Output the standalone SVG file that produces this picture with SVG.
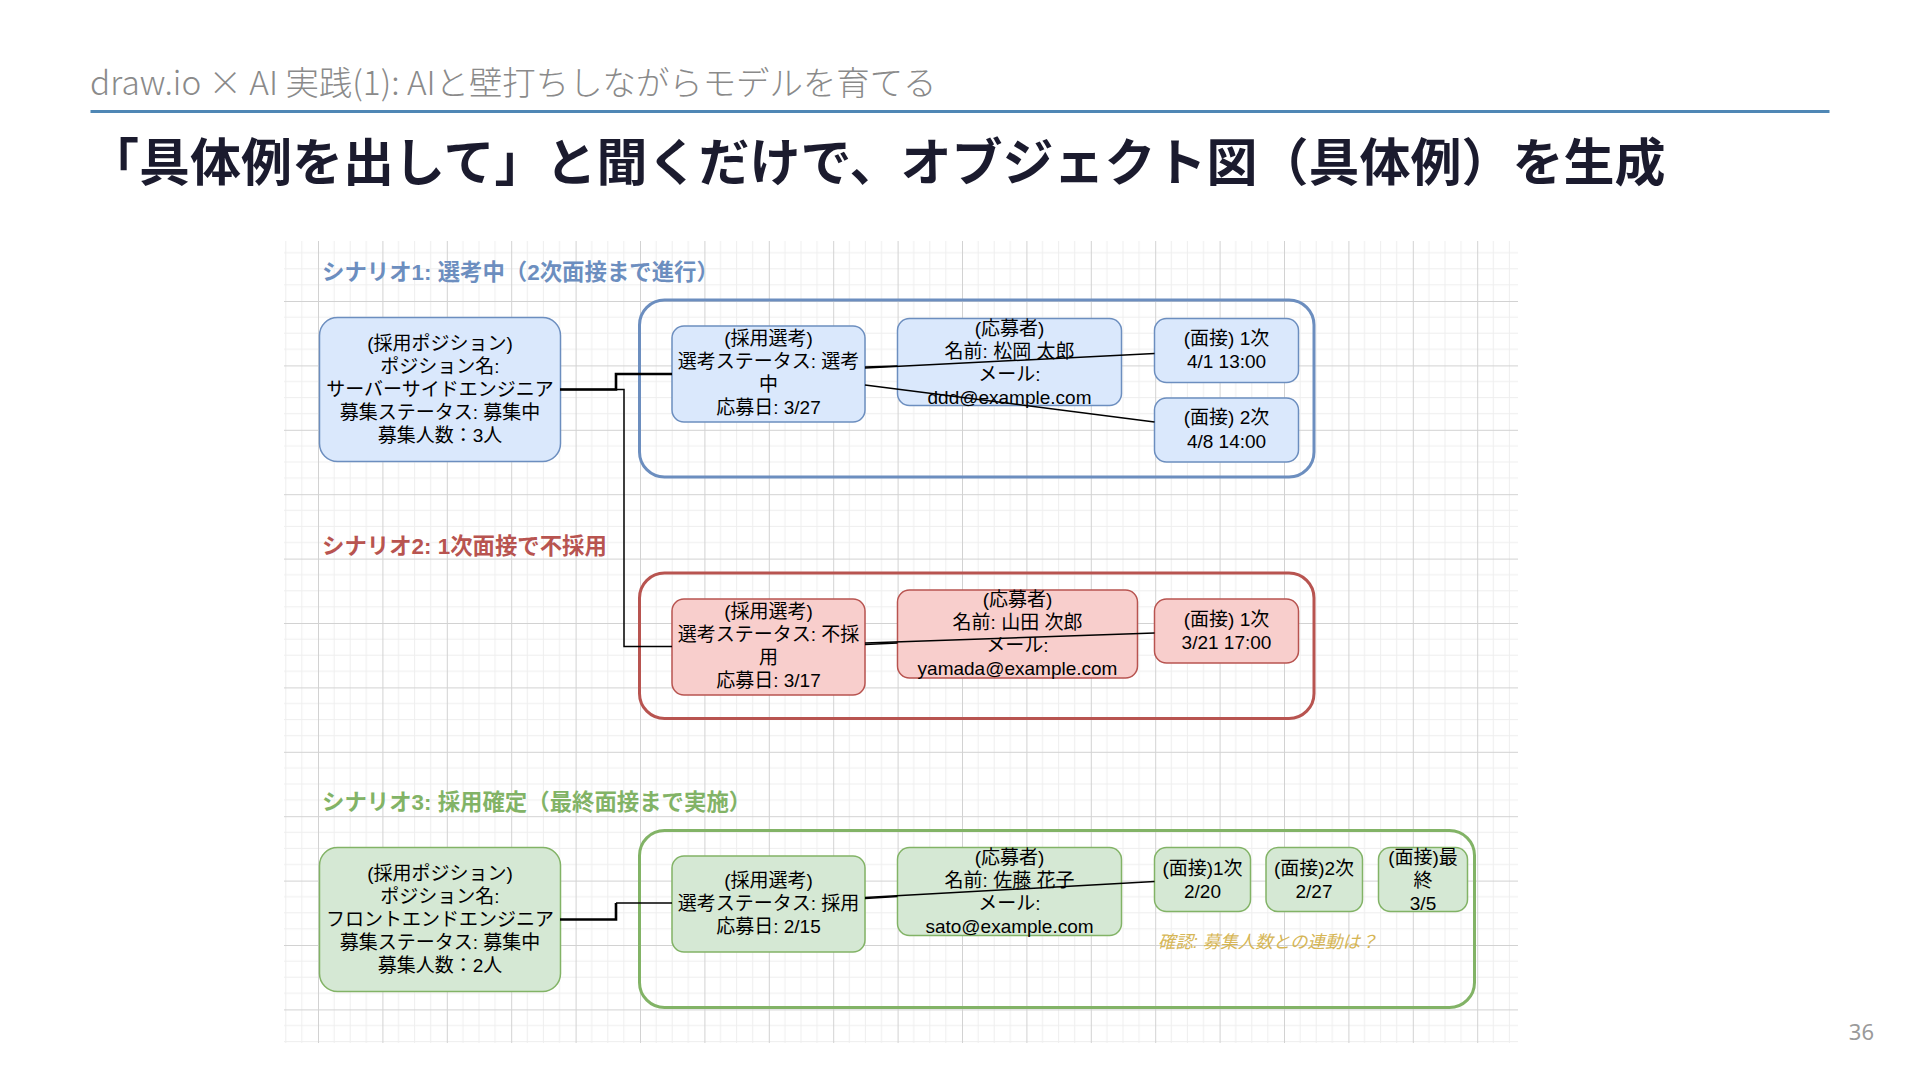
<svg xmlns="http://www.w3.org/2000/svg" width="1920" height="1080" viewBox="0 0 1920 1080">
<defs>
<pattern id="grid" patternUnits="userSpaceOnUse" x="318" y="301" width="64.4" height="64.4">
<path d="M16.1,0V64.4M32.2,0V64.4M48.3,0V64.4M0,16.1H64.4M0,32.2H64.4M0,48.3H64.4" stroke="#eeeeee" stroke-width="1" fill="none"/>
<path d="M0.5,0V64.4M0,0.5H64.4" stroke="#d2d2d2" stroke-width="1" fill="none"/>
</pattern>
<style>
.sub{font-family:"Noto Sans CJK JP","Noto Sans",sans-serif;font-weight:300;font-size:33.4px;fill:#8a8a8a}
.ttl{font-family:"Noto Sans CJK JP",sans-serif;font-weight:700;font-size:51px;fill:#1b1b2e}
.lbl{font-family:"Liberation Sans","Noto Sans CJK JP",sans-serif;font-weight:700;font-size:22.4px}
.t{font-family:"Liberation Sans","Noto Sans CJK JP",sans-serif;font-size:19px;fill:#000;text-anchor:middle}
.blue{fill:#dae8fc;stroke:#6c8ebf;stroke-width:1.5}
.red{fill:#f8cecc;stroke:#b85450;stroke-width:1.5}
.green{fill:#d5e8d4;stroke:#82b366;stroke-width:1.5}
.grp{fill:none;stroke-width:3}
.e{fill:none;stroke:#000;stroke-width:1.5}
.ek{fill:none;stroke:#000;stroke-width:2.6}
</style>
</defs>
<rect width="1920" height="1080" fill="#ffffff"/>
<text class="sub" x="90" y="95">draw.io × AI 実践(1): AIと壁打ちしながらモデルを育てる</text>
<rect x="90.5" y="110" width="1739" height="3" fill="#4f87b5"/>
<text class="ttl" x="88" y="181">「具体例を出して」と聞くだけで、オブジェクト図（具体例）を生成</text>
<text x="1874" y="1040" text-anchor="end" style="font-family:'Noto Sans','Liberation Sans',sans-serif;font-size:22px;fill:#9a9a9a">36</text>

<rect x="284" y="241" width="1234" height="802" fill="url(#grid)"/>

<g id="scenario-labels">
<text class="lbl" x="322" y="280" fill="#6c8ebf">シナリオ1: 選考中（2次面接まで進行）</text>
<text class="lbl" x="322" y="554" fill="#b85450">シナリオ2: 1次面接で不採用</text>
<text class="lbl" x="322" y="810" fill="#82b366">シナリオ3: 採用確定（最終面接まで実施）</text>
</g>

<g id="group-s1"><rect class="grp" x="639.5" y="300" width="674.5" height="177" rx="25" stroke="#6c8ebf"/></g>
<g id="group-s2"><rect class="grp" x="639.5" y="573" width="674.5" height="145.5" rx="25" stroke="#b85450"/></g>
<g id="group-s3"><rect class="grp" x="639.5" y="830.5" width="835" height="177" rx="25" stroke="#82b366"/></g>

<g id="s1-position">
<rect class="blue" x="319.5" y="317.5" width="241" height="144" rx="18"/>
<text class="t" x="440" y="349.5">(採用ポジション)</text>
<text class="t" x="440" y="372.5">ポジション名:</text>
<text class="t" x="440" y="395.5">サーバーサイドエンジニア</text>
<text class="t" x="440" y="418.5">募集ステータス: 募集中</text>
<text class="t" x="440" y="441.5">募集人数：3人</text>
</g>
<g id="s1-selection">
<rect class="blue" x="672" y="326" width="193" height="96" rx="12"/>
<text class="t" x="768.5" y="345">(採用選考)</text>
<text class="t" x="768.5" y="368">選考ステータス: 選考</text>
<text class="t" x="768.5" y="391">中</text>
<text class="t" x="768.5" y="414">応募日: 3/27</text>
</g>
<g id="s1-applicant">
<rect class="blue" x="897.5" y="318.5" width="224" height="87" rx="12"/>
<text class="t" x="1009.5" y="334.5">(応募者)</text>
<text class="t" x="1009.5" y="357.5">名前: 松岡 太郎</text>
<text class="t" x="1009.5" y="380.5">メール:</text>
<text class="t" x="1009.5" y="403.5">ddd@example.com</text>
</g>
<g id="s1-interview1">
<rect class="blue" x="1154.5" y="318.5" width="144" height="64" rx="12"/>
<text class="t" x="1226.5" y="344.5">(面接) 1次</text>
<text class="t" x="1226.5" y="368">4/1 13:00</text>
</g>
<g id="s1-interview2">
<rect class="blue" x="1154.5" y="398" width="144" height="64" rx="12"/>
<text class="t" x="1226.5" y="424">(面接) 2次</text>
<text class="t" x="1226.5" y="447.5">4/8 14:00</text>
</g>

<g id="s2-selection">
<rect class="red" x="672" y="599" width="193" height="96" rx="12"/>
<text class="t" x="768.5" y="618">(採用選考)</text>
<text class="t" x="768.5" y="641">選考ステータス: 不採</text>
<text class="t" x="768.5" y="664">用</text>
<text class="t" x="768.5" y="687">応募日: 3/17</text>
</g>
<g id="s2-applicant">
<rect class="red" x="897.5" y="590" width="240" height="88" rx="12"/>
<text class="t" x="1017.5" y="606">(応募者)</text>
<text class="t" x="1017.5" y="629">名前: 山田 次郎</text>
<text class="t" x="1017.5" y="652">メール:</text>
<text class="t" x="1017.5" y="675">yamada@example.com</text>
</g>
<g id="s2-interview1">
<rect class="red" x="1154.5" y="599" width="144" height="64" rx="12"/>
<text class="t" x="1226.5" y="626">(面接) 1次</text>
<text class="t" x="1226.5" y="649">3/21 17:00</text>
</g>

<g id="s3-position">
<rect class="green" x="319.5" y="847.5" width="241" height="144" rx="18"/>
<text class="t" x="440" y="879.5">(採用ポジション)</text>
<text class="t" x="440" y="902.5">ポジション名:</text>
<text class="t" x="440" y="925.5">フロントエンドエンジニア</text>
<text class="t" x="440" y="948.5">募集ステータス: 募集中</text>
<text class="t" x="440" y="971.5">募集人数：2人</text>
</g>
<g id="s3-selection">
<rect class="green" x="672" y="856" width="193" height="96" rx="12"/>
<text class="t" x="768.5" y="887">(採用選考)</text>
<text class="t" x="768.5" y="910">選考ステータス: 採用</text>
<text class="t" x="768.5" y="933">応募日: 2/15</text>
</g>
<g id="s3-applicant">
<rect class="green" x="897.5" y="847.5" width="224" height="88" rx="12"/>
<text class="t" x="1009.5" y="864">(応募者)</text>
<text class="t" x="1009.5" y="887">名前: 佐藤 花子</text>
<text class="t" x="1009.5" y="910">メール:</text>
<text class="t" x="1009.5" y="933">sato@example.com</text>
</g>
<g id="s3-interview1">
<rect class="green" x="1154.5" y="847.5" width="96" height="64" rx="12"/>
<text class="t" x="1202.5" y="874.5">(面接)1次</text>
<text class="t" x="1202.5" y="897.5">2/20</text>
</g>
<g id="s3-interview2">
<rect class="green" x="1266" y="847.5" width="96.5" height="64" rx="12"/>
<text class="t" x="1314" y="874.5">(面接)2次</text>
<text class="t" x="1314" y="897.5">2/27</text>
</g>
<g id="s3-interview-final">
<rect class="green" x="1378.5" y="847.5" width="89" height="64" rx="12"/>
<text class="t" x="1423" y="863.5">(面接)最</text>
<text class="t" x="1423" y="886.5">終</text>
<text class="t" x="1423" y="909.5">3/5</text>
</g>
<g id="s3-note">
<text x="1158" y="948" style="font-family:'Liberation Sans','Noto Sans CJK JP',sans-serif;font-style:italic;font-size:17.5px;fill:#d6b656">確認: 募集人数との連動は？</text>
</g>

<g id="connectors">
<path class="e" d="M560,389.5 H624 V646.5 H672"/>
<path class="ek" d="M560,389.5 H616 V374 H672"/>
<path class="e" d="M865,368 L1154.5,353.5"/>
<path class="e" d="M865,367 L897.5,366"/>
<path class="e" d="M865,385 L1154.5,422"/>
<path class="e" d="M865,643 L1154.5,633"/>
<path class="e" d="M865,644.5 L897.5,643"/>
<path class="ek" d="M560,919.5 H616 V903"/>
<path class="e" d="M616,903 H672"/>
<path class="e" d="M865,897.5 L1154.5,881.5"/>
<path class="e" d="M865,898.5 L897.5,896.5"/>
</g>
</svg>
